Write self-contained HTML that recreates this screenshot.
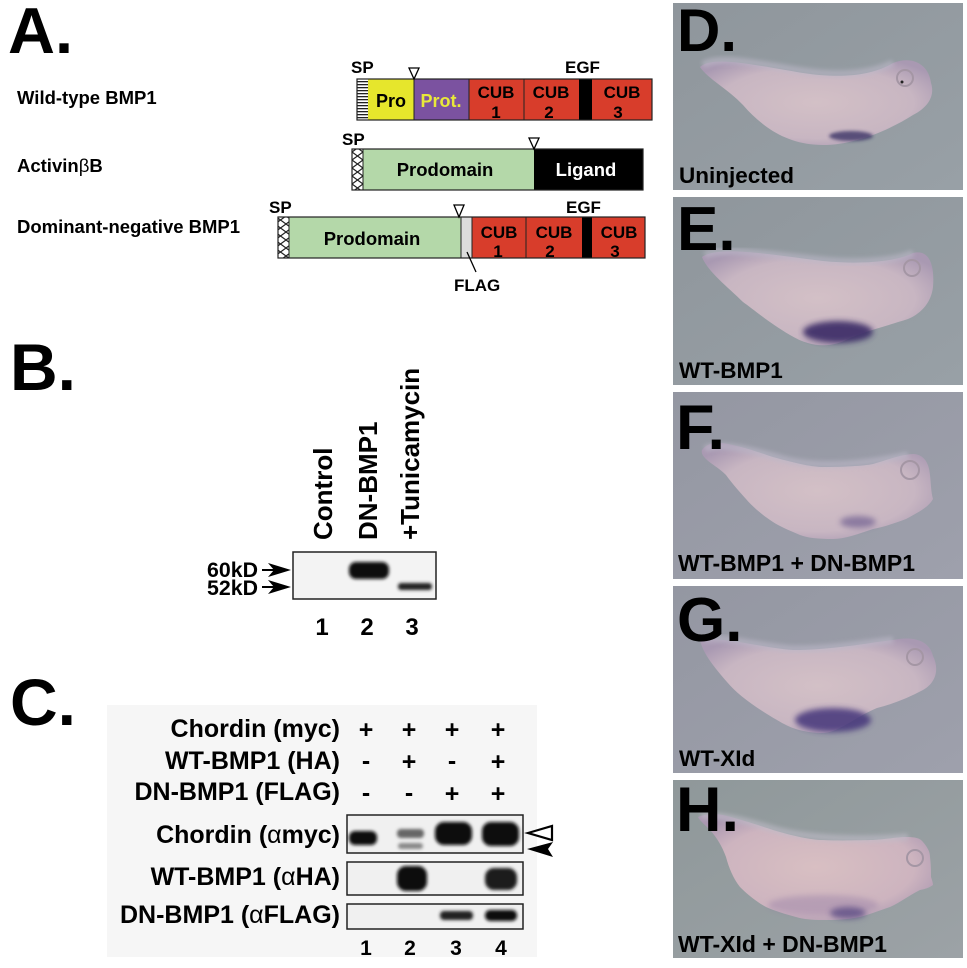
<!DOCTYPE html>
<html><head><meta charset="utf-8"><style>
html,body{margin:0;padding:0;background:#fff;}
svg{display:block;}
text{font-family:"Liberation Sans",Arial,sans-serif;font-weight:bold;}
</style></head><body>
<svg width="967" height="968" viewBox="0 0 967 968" xmlns="http://www.w3.org/2000/svg">
<defs>
<pattern id="hstripe" width="4" height="3" patternUnits="userSpaceOnUse">
<rect width="4" height="3" fill="#fff"/><rect width="4" height="1.3" fill="#222"/>
</pattern>
<pattern id="xhatch" width="11" height="8" patternUnits="userSpaceOnUse">
<rect width="11" height="8" fill="#fff"/>
<path d="M0,0 L11,8 M11,0 L0,8" stroke="#222" stroke-width="1.2"/>
</pattern>
<filter id="bl" x="-30%" y="-60%" width="160%" height="220%"><feGaussianBlur stdDeviation="1.6"/></filter>
<filter id="bl2" x="-30%" y="-60%" width="160%" height="220%"><feGaussianBlur stdDeviation="3"/></filter>
<filter id="bl4" x="-20%" y="-40%" width="140%" height="180%"><feGaussianBlur stdDeviation="2"/></filter>
<radialGradient id="emb" cx="0.5" cy="0.5" r="0.6">
<stop offset="0" stop-color="#d3c0c6"/><stop offset="0.7" stop-color="#c8b6c2"/><stop offset="1" stop-color="#a999b2"/>
</radialGradient>
<radialGradient id="embP" cx="0.5" cy="0.5" r="0.6">
<stop offset="0" stop-color="#d8bfc2"/><stop offset="0.7" stop-color="#cdb4bf"/><stop offset="1" stop-color="#a996b0"/>
</radialGradient>
<linearGradient id="bgD" x1="0" y1="0" x2="1" y2="1"><stop offset="0" stop-color="#8f969c"/><stop offset="1" stop-color="#98a0a6"/></linearGradient>
<linearGradient id="bgF" x1="0" y1="0" x2="1" y2="1"><stop offset="0" stop-color="#9497a2"/><stop offset="1" stop-color="#9ea0ac"/></linearGradient>
<linearGradient id="bgH" x1="0" y1="0" x2="1" y2="1"><stop offset="0" stop-color="#8f989a"/><stop offset="1" stop-color="#9ca2a6"/></linearGradient>
</defs>

<!-- ===== Panel A ===== -->
<text x="8" y="53" font-size="65">A.</text>
<text x="17" y="104" font-size="18.5">Wild-type BMP1</text>
<text x="17" y="172" font-size="18.5">Activin<tspan font-weight="normal">β</tspan>B</text>
<text x="17" y="233" font-size="18.5">Dominant-negative BMP1</text>

<!-- row1 -->
<text x="351" y="73" font-size="17">SP</text>
<text x="565" y="73" font-size="17">EGF</text>
<rect x="357" y="79" width="11" height="41" fill="url(#hstripe)"/>
<rect x="368" y="79" width="46" height="41" fill="#e6e62c"/>
<rect x="414" y="79" width="55" height="41" fill="#7b52a0"/>
<rect x="469" y="79" width="55" height="41" fill="#d83d2b"/>
<rect x="524" y="79" width="55" height="41" fill="#d83d2b"/>
<rect x="579" y="79" width="13" height="41" fill="#000"/>
<rect x="592" y="79" width="60" height="41" fill="#d83d2b"/>
<rect x="357" y="79" width="295" height="41" fill="none" stroke="#222" stroke-width="1.2"/>
<path d="M414,79V120 M469,79V120 M524,79V120" stroke="#222" stroke-width="1"/>
<polygon points="409,68 419,68 414,79" fill="#fff" stroke="#000" stroke-width="1.3"/>
<text x="391" y="107" font-size="18" text-anchor="middle">Pro</text>
<text x="441" y="107" font-size="18" text-anchor="middle" fill="#e8e83a">Prot.</text>
<text x="496" y="98" font-size="17" text-anchor="middle">CUB</text>
<text x="496" y="118" font-size="17" text-anchor="middle">1</text>
<text x="551" y="98" font-size="17" text-anchor="middle">CUB</text>
<text x="549" y="118" font-size="17" text-anchor="middle">2</text>
<text x="622" y="98" font-size="17" text-anchor="middle">CUB</text>
<text x="618" y="118" font-size="17" text-anchor="middle">3</text>

<!-- row2 -->
<text x="342" y="145" font-size="17">SP</text>
<rect x="352" y="149" width="11" height="41" fill="url(#xhatch)"/>
<rect x="363" y="149" width="171" height="41" fill="#b4d8a9"/>
<rect x="534" y="149" width="109" height="41" fill="#000"/>
<rect x="352" y="149" width="291" height="41" fill="none" stroke="#222" stroke-width="1.2"/>
<line x1="363" y1="149" x2="363" y2="190" stroke="#222" stroke-width="1"/>
<polygon points="529,138 539,138 534,149" fill="#fff" stroke="#000" stroke-width="1.3"/>
<text x="445" y="176" font-size="18.5" text-anchor="middle">Prodomain</text>
<text x="586" y="176" font-size="18.5" text-anchor="middle" fill="#fff">Ligand</text>

<!-- row3 -->
<text x="269" y="213" font-size="17">SP</text>
<text x="566" y="213" font-size="17">EGF</text>
<rect x="278" y="217" width="11" height="41" fill="url(#xhatch)"/>
<rect x="289" y="217" width="172" height="41" fill="#b4d8a9"/>
<rect x="461" y="217" width="11" height="41" fill="#dcdcdc"/>
<rect x="472" y="217" width="54" height="41" fill="#d83d2b"/>
<rect x="526" y="217" width="56" height="41" fill="#d83d2b"/>
<rect x="582" y="217" width="10" height="41" fill="#000"/>
<rect x="592" y="217" width="53" height="41" fill="#d83d2b"/>
<rect x="278" y="217" width="367" height="41" fill="none" stroke="#222" stroke-width="1.2"/>
<path d="M289,217V258 M461,217V258 M472,217V258 M526,217V258" stroke="#222" stroke-width="1"/>
<polygon points="454,205 464,205 459,217" fill="#fff" stroke="#000" stroke-width="1.3"/>
<text x="372" y="245" font-size="18.5" text-anchor="middle">Prodomain</text>
<text x="499" y="238" font-size="17" text-anchor="middle">CUB</text>
<text x="498" y="257" font-size="17" text-anchor="middle">1</text>
<text x="554" y="238" font-size="17" text-anchor="middle">CUB</text>
<text x="550" y="257" font-size="17" text-anchor="middle">2</text>
<text x="619" y="238" font-size="17" text-anchor="middle">CUB</text>
<text x="615" y="257" font-size="17" text-anchor="middle">3</text>
<line x1="467" y1="252" x2="476" y2="272" stroke="#000" stroke-width="1.3"/>
<text x="454" y="291" font-size="17">FLAG</text>

<!-- ===== Panel B ===== -->
<text x="10" y="390" font-size="66">B.</text>
<text transform="translate(332,540) rotate(-90)" font-size="26">Control</text>
<text transform="translate(377,540) rotate(-90)" font-size="26">DN-BMP1</text>
<text transform="translate(419,540) rotate(-90)" font-size="26">+Tunicamycin</text>
<rect x="293" y="552" width="143" height="47" fill="#f3f3f3" stroke="#222" stroke-width="1.5"/>
<rect x="349" y="562" width="40" height="17" rx="7" fill="#111" filter="url(#bl)"/>
<rect x="398" y="583" width="34" height="7" rx="3" fill="#222" filter="url(#bl)"/>
<text x="207" y="577" font-size="21" textLength="51" lengthAdjust="spacingAndGlyphs">60kD</text>
<text x="207" y="595" font-size="21" textLength="51" lengthAdjust="spacingAndGlyphs">52kD</text>
<line x1="262" y1="570" x2="276" y2="570" stroke="#000" stroke-width="2"/>
<polygon points="291,570 268,563 274,570 268,577" fill="#000"/>
<line x1="262" y1="587" x2="276" y2="587" stroke="#000" stroke-width="2"/>
<polygon points="291,587 268,580 274,587 268,594" fill="#000"/>
<text x="322" y="635" font-size="24" text-anchor="middle">1</text>
<text x="367" y="635" font-size="24" text-anchor="middle">2</text>
<text x="412" y="635" font-size="24" text-anchor="middle">3</text>

<!-- ===== Panel C ===== -->
<text x="10" y="725" font-size="66">C.</text>
<rect x="107" y="705" width="430" height="252" fill="#f6f6f6"/>
<g font-size="25" text-anchor="end">
<text x="340" y="737">Chordin (myc)</text>
<text x="340" y="769">WT-BMP1 (HA)</text>
<text x="340" y="800">DN-BMP1 (FLAG)</text>
<text x="340" y="843">Chordin (<tspan font-weight="normal">α</tspan>myc)</text>
<text x="340" y="885">WT-BMP1 (<tspan font-weight="normal">α</tspan>HA)</text>
<text x="340" y="923">DN-BMP1 (<tspan font-weight="normal">α</tspan>FLAG)</text>
</g>
<g font-size="25" text-anchor="middle">
<text x="366" y="738">+</text><text x="409" y="738">+</text><text x="452" y="738">+</text><text x="498" y="738">+</text>
<text x="366" y="769">-</text><text x="409" y="770">+</text><text x="452" y="769">-</text><text x="498" y="770">+</text>
<text x="366" y="801">-</text><text x="409" y="801">-</text><text x="452" y="802">+</text><text x="498" y="802">+</text>
</g>
<rect x="347" y="815" width="176" height="38" fill="#f0f0f0" stroke="#222" stroke-width="1.5"/>
<rect x="347" y="862" width="176" height="33" fill="#f0f0f0" stroke="#222" stroke-width="1.5"/>
<rect x="347" y="904" width="176" height="25" fill="#f0f0f0" stroke="#222" stroke-width="1.5"/>
<!-- bands -->
<rect x="349" y="831" width="28" height="14" rx="6" fill="#111" filter="url(#bl)"/>
<rect x="397" y="829" width="27" height="9" rx="4" fill="#666" filter="url(#bl)"/>
<rect x="398" y="843" width="25" height="6" rx="3" fill="#888" filter="url(#bl)"/>
<rect x="435" y="822" width="37" height="23" rx="9" fill="#0c0c0c" filter="url(#bl)"/>
<rect x="482" y="822" width="37" height="24" rx="9" fill="#0c0c0c" filter="url(#bl)"/>
<rect x="397" y="866" width="30" height="25" rx="9" fill="#0e0e0e" filter="url(#bl)"/>
<rect x="485" y="868" width="32" height="22" rx="9" fill="#1e1e1e" filter="url(#bl)"/>
<rect x="440" y="911" width="33" height="9" rx="4" fill="#222" filter="url(#bl)"/>
<rect x="485" y="910" width="32" height="11" rx="5" fill="#111" filter="url(#bl)"/>
<!-- arrowheads -->
<polygon points="528,833 552,826 552,840" fill="#fff" stroke="#000" stroke-width="2.2"/>
<polygon points="527,849 553,842 548,849 553,857" fill="#000"/>
<g font-size="21" text-anchor="middle">
<text x="366" y="955">1</text><text x="410" y="955">2</text><text x="456" y="955">3</text><text x="501" y="955">4</text>
</g>

<!-- ===== Panels D-H ===== -->
<!-- D -->
<g transform="translate(673,3)">
<rect width="290" height="187" fill="url(#bgD)"/>
<path d="M27,64 C40,52 80,62 130,70 C170,76 200,72 220,60 C240,52 256,62 258,80 C262,92 256,104 240,112 C215,128 180,142 150,142 C115,142 90,125 70,102 C55,86 35,76 27,64 Z" fill="url(#emb)"/>
<path d="M30,62 C45,52 80,60 130,68 C170,74 200,70 220,60" fill="none" stroke="#bcb8c8" stroke-width="7" opacity="0.6" filter="url(#bl4)"/>
<ellipse cx="178" cy="133" rx="22" ry="5" fill="#3c3468" opacity="0.8" filter="url(#bl)"/>
<circle cx="232" cy="75" r="8" fill="none" stroke="#a496a4" stroke-width="2"/>
<circle cx="229" cy="79" r="1.5" fill="#222"/>
<text x="4" y="48" font-size="60">D.</text>
<text x="6" y="180" font-size="22.5">Uninjected</text>
</g>
<!-- E -->
<g transform="translate(673,197)">
<rect width="290" height="188" fill="url(#bgD)"/>
<path d="M29,60 C45,48 100,58 150,64 C190,68 225,64 240,56 C255,52 262,66 260,90 C258,108 245,118 235,122 C210,130 190,135 175,142 C160,150 140,152 117,138 C95,125 80,112 70,105 C55,90 35,75 29,60 Z" fill="url(#emb)"/>
<path d="M32,58 C48,50 100,58 150,63 C190,67 225,63 240,56" fill="none" stroke="#bcb8c8" stroke-width="7" opacity="0.6" filter="url(#bl4)"/>
<ellipse cx="165" cy="135" rx="35" ry="11" fill="#3a2c66" opacity="0.9" filter="url(#bl2)"/>
<circle cx="239" cy="71" r="8" fill="none" stroke="#a496a4" stroke-width="2"/>
<text x="4" y="53" font-size="62">E.</text>
<text x="6" y="181" font-size="22.5">WT-BMP1</text>
</g>
<!-- F -->
<g transform="translate(673,392)">
<rect width="290" height="187" fill="url(#bgF)"/>
<path d="M29,58 C35,50 45,50 55,52 C75,56 90,62 100,65 C125,72 140,75 150,75 C170,75 190,74 200,72 C215,68 225,63 240,62 C250,62 256,70 257,83 C258,92 258,100 260,107 C256,114 250,118 233,127 C220,132 210,135 200,137 C185,142 172,147 160,147 C145,147 135,146 127,143 C115,138 106,134 100,130 C88,122 80,115 73,107 C64,97 58,90 53,83 C46,76 38,72 33,67 C30,64 28,61 29,58 Z" fill="url(#emb)"/>
<path d="M32,57 C45,50 80,58 110,67 C140,75 180,75 235,63" fill="none" stroke="#bcb8c8" stroke-width="7" opacity="0.6" filter="url(#bl4)"/>
<ellipse cx="185" cy="130" rx="18" ry="6" fill="#5a4a84" opacity="0.55" filter="url(#bl2)"/>
<circle cx="237" cy="78" r="9" fill="none" stroke="#a496a4" stroke-width="2"/>
<text x="3" y="57" font-size="63">F.</text>
<text x="5" y="179" font-size="23">WT-BMP1 + DN-BMP1</text>
</g>
<!-- G -->
<g transform="translate(673,586)">
<rect width="290" height="187" fill="url(#bgF)"/>
<path d="M27,54 C50,50 90,62 120,64 C160,64 200,56 220,54 C240,50 256,54 260,70 C266,82 264,96 250,104 C235,112 220,118 204,122 C180,132 165,148 147,147 C125,146 114,140 104,134 C80,120 64,108 54,96 C42,82 30,68 27,54 Z" fill="url(#emb)"/>
<path d="M30,53 C50,50 90,61 120,63 C160,63 200,56 220,54" fill="none" stroke="#bcb8c8" stroke-width="7" opacity="0.6" filter="url(#bl4)"/>
<ellipse cx="160" cy="134" rx="38" ry="12" fill="#44367a" opacity="0.85" filter="url(#bl2)"/>
<circle cx="242" cy="71" r="8" fill="none" stroke="#a496a4" stroke-width="2"/>
<text x="4" y="55" font-size="62">G.</text>
<text x="6" y="180" font-size="22.5">WT-XId</text>
</g>
<!-- H -->
<g transform="translate(673,780)">
<rect width="290" height="178" fill="url(#bgH)"/>
<path d="M25,37 C35,33 45,34 50,35 C70,40 88,46 100,50 C120,56 138,60 150,60 C170,61 190,60 200,60 C215,59 225,57 233,57 C242,57 247,58 250,62 C255,68 257,72 257,77 C258,85 258,92 258,97 C259,100 260,103 260,105 C256,108 252,109 247,110 C235,116 228,122 217,127 C205,131 195,135 187,137 C172,140 160,140 150,140 C138,140 130,139 123,137 C112,134 102,131 93,127 C84,122 75,115 67,107 C60,98 56,88 53,77 C49,66 44,58 37,50 C32,45 27,41 25,37 Z" fill="url(#embP)"/>
<path d="M28,36 C45,34 70,40 100,49 C130,58 180,61 235,57" fill="none" stroke="#bfbcc8" stroke-width="7" opacity="0.6" filter="url(#bl4)"/>
<ellipse cx="150" cy="125" rx="55" ry="10" fill="#8a72a0" opacity="0.35" filter="url(#bl2)"/>
<ellipse cx="175" cy="133" rx="18" ry="6" fill="#4a3a7a" opacity="0.65" filter="url(#bl2)"/>
<circle cx="242" cy="78" r="8" fill="none" stroke="#a496a4" stroke-width="2"/>
<text x="3" y="51" font-size="63">H.</text>
<text x="5" y="172" font-size="23">WT-XId + DN-BMP1</text>
</g>
</svg>
</body></html>
